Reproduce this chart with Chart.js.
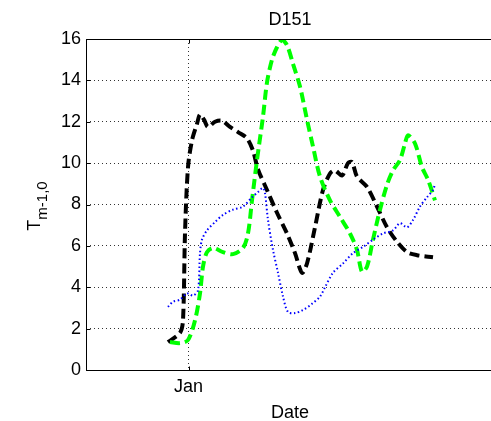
<!DOCTYPE html>
<html>
<head>
<meta charset="utf-8">
<script src="https://cdn.jsdelivr.net/npm/chart.js@4"></script>
<style>
  html, body { margin: 0; padding: 0; background: #fff; overflow: hidden; }
  #wrap { position: absolute; left: 0; top: 0; width: 520px; height: 421px; }
</style>
</head>
<body>
<div id="wrap"><canvas id="chart" width="520" height="421"></canvas></div>
<script>
// days relative to 1 Jan
const blackDays = [-8.2, -3.4, -2.2, -1.4, -0.2, 1.4, 3.4, 4.6, 6.2, 7.8, 10.6, 13.4, 16.6, 19.8, 23.4, 25.8, 27.8, 31.4, 35.4, 39.4, 42.6, 45.4, 47.4, 50.6, 53.8, 56.6, 58.6, 61.4, 63.8, 65.4, 67.4, 71.4, 75.4, 79.4, 83.4, 87.4, 91.4, 97.8];
const blackVals = [1.35, 1.8, 2.4, 6.6, 9.8, 11.1, 11.9, 12.35, 12.1, 11.75, 12.0, 12.05, 11.75, 11.5, 11.2, 10.6, 9.7, 8.7, 7.6, 6.6, 5.65, 4.7, 5.15, 6.9, 8.7, 9.5, 9.65, 9.4, 10.0, 10.05, 9.35, 8.85, 7.9, 6.9, 6.2, 5.7, 5.55, 5.45];

const greenDays = [-7.4, -3.4, -0.2, 2.6, 4.6, 5.8, 7.4, 9.8, 13.8, 17.8, 21.8, 23.8, 25.4, 27.4, 29.8, 31.4, 33.4, 35.4, 37.4, 39.4, 41.8, 44.6, 47.4, 49.8, 52.6, 56.6, 60.6, 64.6, 67.4, 69.4, 71.4, 73.8, 76.6, 79.4, 81.8, 84.6, 86.6, 87.8, 90.6, 93.4, 95.8, 98.6];
const greenVals = [1.35, 1.3, 1.45, 2.4, 3.7, 5.0, 5.7, 5.9, 5.7, 5.6, 5.9, 6.6, 8.2, 10.15, 12.25, 13.9, 15.0, 15.6, 15.95, 15.7, 14.8, 13.7, 12.1, 10.8, 9.35, 8.2, 7.4, 6.6, 5.8, 4.75, 5.0, 6.3, 7.75, 8.95, 9.65, 10.15, 10.95, 11.35, 10.95, 9.8, 9.2, 8.2];

const blueDays = [-8.2, -6.2, -3.4, -0.6, 1.8, 3.8, 4.6, 5.4, 7.4, 10.6, 13.8, 17.8, 21.8, 25.4, 27.8, 29.8, 30.6, 31.8, 33.8, 35.8, 37.8, 39.8, 42.6, 45.8, 49.4, 52.6, 54.6, 57.8, 61.8, 65.8, 69.8, 73.8, 77.8, 81.8, 84.6, 87.4, 89.8, 92.6, 95.4, 97.8, 98.6];
const blueVals = [3.05, 3.3, 3.4, 3.7, 3.6, 3.85, 5.65, 6.3, 6.75, 7.15, 7.5, 7.75, 7.9, 8.35, 8.6, 8.8, 8.55, 7.25, 5.8, 4.7, 3.55, 2.8, 2.75, 2.9, 3.2, 3.55, 4.0, 4.7, 5.15, 5.65, 5.95, 6.3, 6.6, 6.75, 7.1, 6.9, 7.25, 7.9, 8.35, 8.7, 9.0];

const xTicks = [0];
const xTickLabels = ['Jan'];
const yTicks = [0, 2, 4, 6, 8, 10, 12, 14, 16];

const titleText = 'D151';
const xTitle = 'Date';
const yTitleMain = 'T';
const yTitleSub = 'm-1,0';

const FONT = "'Liberation Sans', Arial, sans-serif";

function pts(xs, ys) {
  return xs.map((x, i) => ({ x, y: ys[i] }));
}

// axis box, inward ticks and text labels
const decor = {
  id: 'decor',
  afterDraw(chart) {
    const { ctx, chartArea: a, scales } = chart;
    ctx.save();
    ctx.setLineDash([]);
    ctx.strokeStyle = '#000';
    ctx.lineWidth = 1;
    const L = Math.round(a.left) + 0.5, T = Math.round(a.top) + 0.5, B = Math.round(a.bottom) + 0.5;
    ctx.beginPath();
    ctx.moveTo(a.right, T);
    ctx.lineTo(L, T);
    ctx.lineTo(L, B);
    ctx.lineTo(a.right, B);
    ctx.stroke();

    ctx.beginPath();
    yTicks.forEach(v => {
      const y = Math.round(scales.y.getPixelForValue(v)) + 0.5;
      ctx.moveTo(L, y);
      ctx.lineTo(L + 4, y);
    });
    xTicks.forEach(v => {
      const x = Math.round(scales.x.getPixelForValue(v)) + 0.5;
      ctx.moveTo(x, B);
      ctx.lineTo(x, B - 4);
      ctx.moveTo(x, T);
      ctx.lineTo(x, T + 4);
    });
    ctx.stroke();

    ctx.fillStyle = '#000';
    ctx.font = '18px ' + FONT;
    ctx.textAlign = 'center';
    ctx.textBaseline = 'alphabetic';
    const cx = (a.left + a.right) / 2;
    ctx.fillText(titleText, cx, 25);
    ctx.fillText(xTitle, cx, 418);

    ctx.translate(40, 206);
    ctx.rotate(-Math.PI / 2);
    ctx.textAlign = 'left';
    ctx.font = '18px ' + FONT;
    const wT = ctx.measureText(yTitleMain).width;
    ctx.font = '15px ' + FONT;
    const wS = ctx.measureText(yTitleSub).width;
    const x0 = -(wT + wS) / 2;
    ctx.font = '18px ' + FONT;
    ctx.fillText(yTitleMain, x0, 0);
    ctx.font = '15px ' + FONT;
    ctx.fillText(yTitleSub, x0 + wT, 7);
    ctx.restore();
  }
};

const line = (data, color, width, dash) => ({
  data, borderColor: color, borderWidth: width, borderDash: dash,
  pointRadius: 0, tension: 0.3, fill: false
});

new Chart(document.getElementById('chart'), {
  type: 'line',
  data: {
    datasets: [
      line(pts(blueDays, blueVals), '#0000ff', 2, [1.5, 2.5]),
      line(pts(greenDays, greenVals), '#00ff00', 4, [10, 5]),
      line(pts(blackDays, blackVals), '#000000', 4, [10, 5]),
    ]
  },
  options: {
    responsive: false,
    animation: false,
    layout: { padding: { top: 39, right: 26, left: 0, bottom: 0 } },
    plugins: { legend: { display: false }, tooltip: { enabled: false }, title: { display: false } },
    scales: {
      x: {
        type: 'linear',
        min: -41,
        max: 122.2,
        afterFit: s => { s.height = 51; },
        afterBuildTicks: s => { s.ticks = xTicks.map(v => ({ value: v })); },
        ticks: {
          color: '#000', font: { family: FONT, size: 18 }, padding: 6,
          maxRotation: 0, autoSkip: false,
          callback: v => xTickLabels[xTicks.indexOf(v)]
        },
        grid: { color: '#333', drawTicks: false },
        border: { display: false, dash: [1, 3] }
      },
      y: {
        min: 0,
        max: 16,
        afterFit: s => { s.width = 86; },
        afterBuildTicks: s => { s.ticks = yTicks.map(v => ({ value: v })); },
        ticks: { color: '#000', font: { family: FONT, size: 18 }, padding: 5 },
        grid: { color: '#333', drawTicks: false },
        border: { display: false, dash: [1, 3] }
      }
    }
  },
  plugins: [decor]
});
</script>
</body>
</html>
